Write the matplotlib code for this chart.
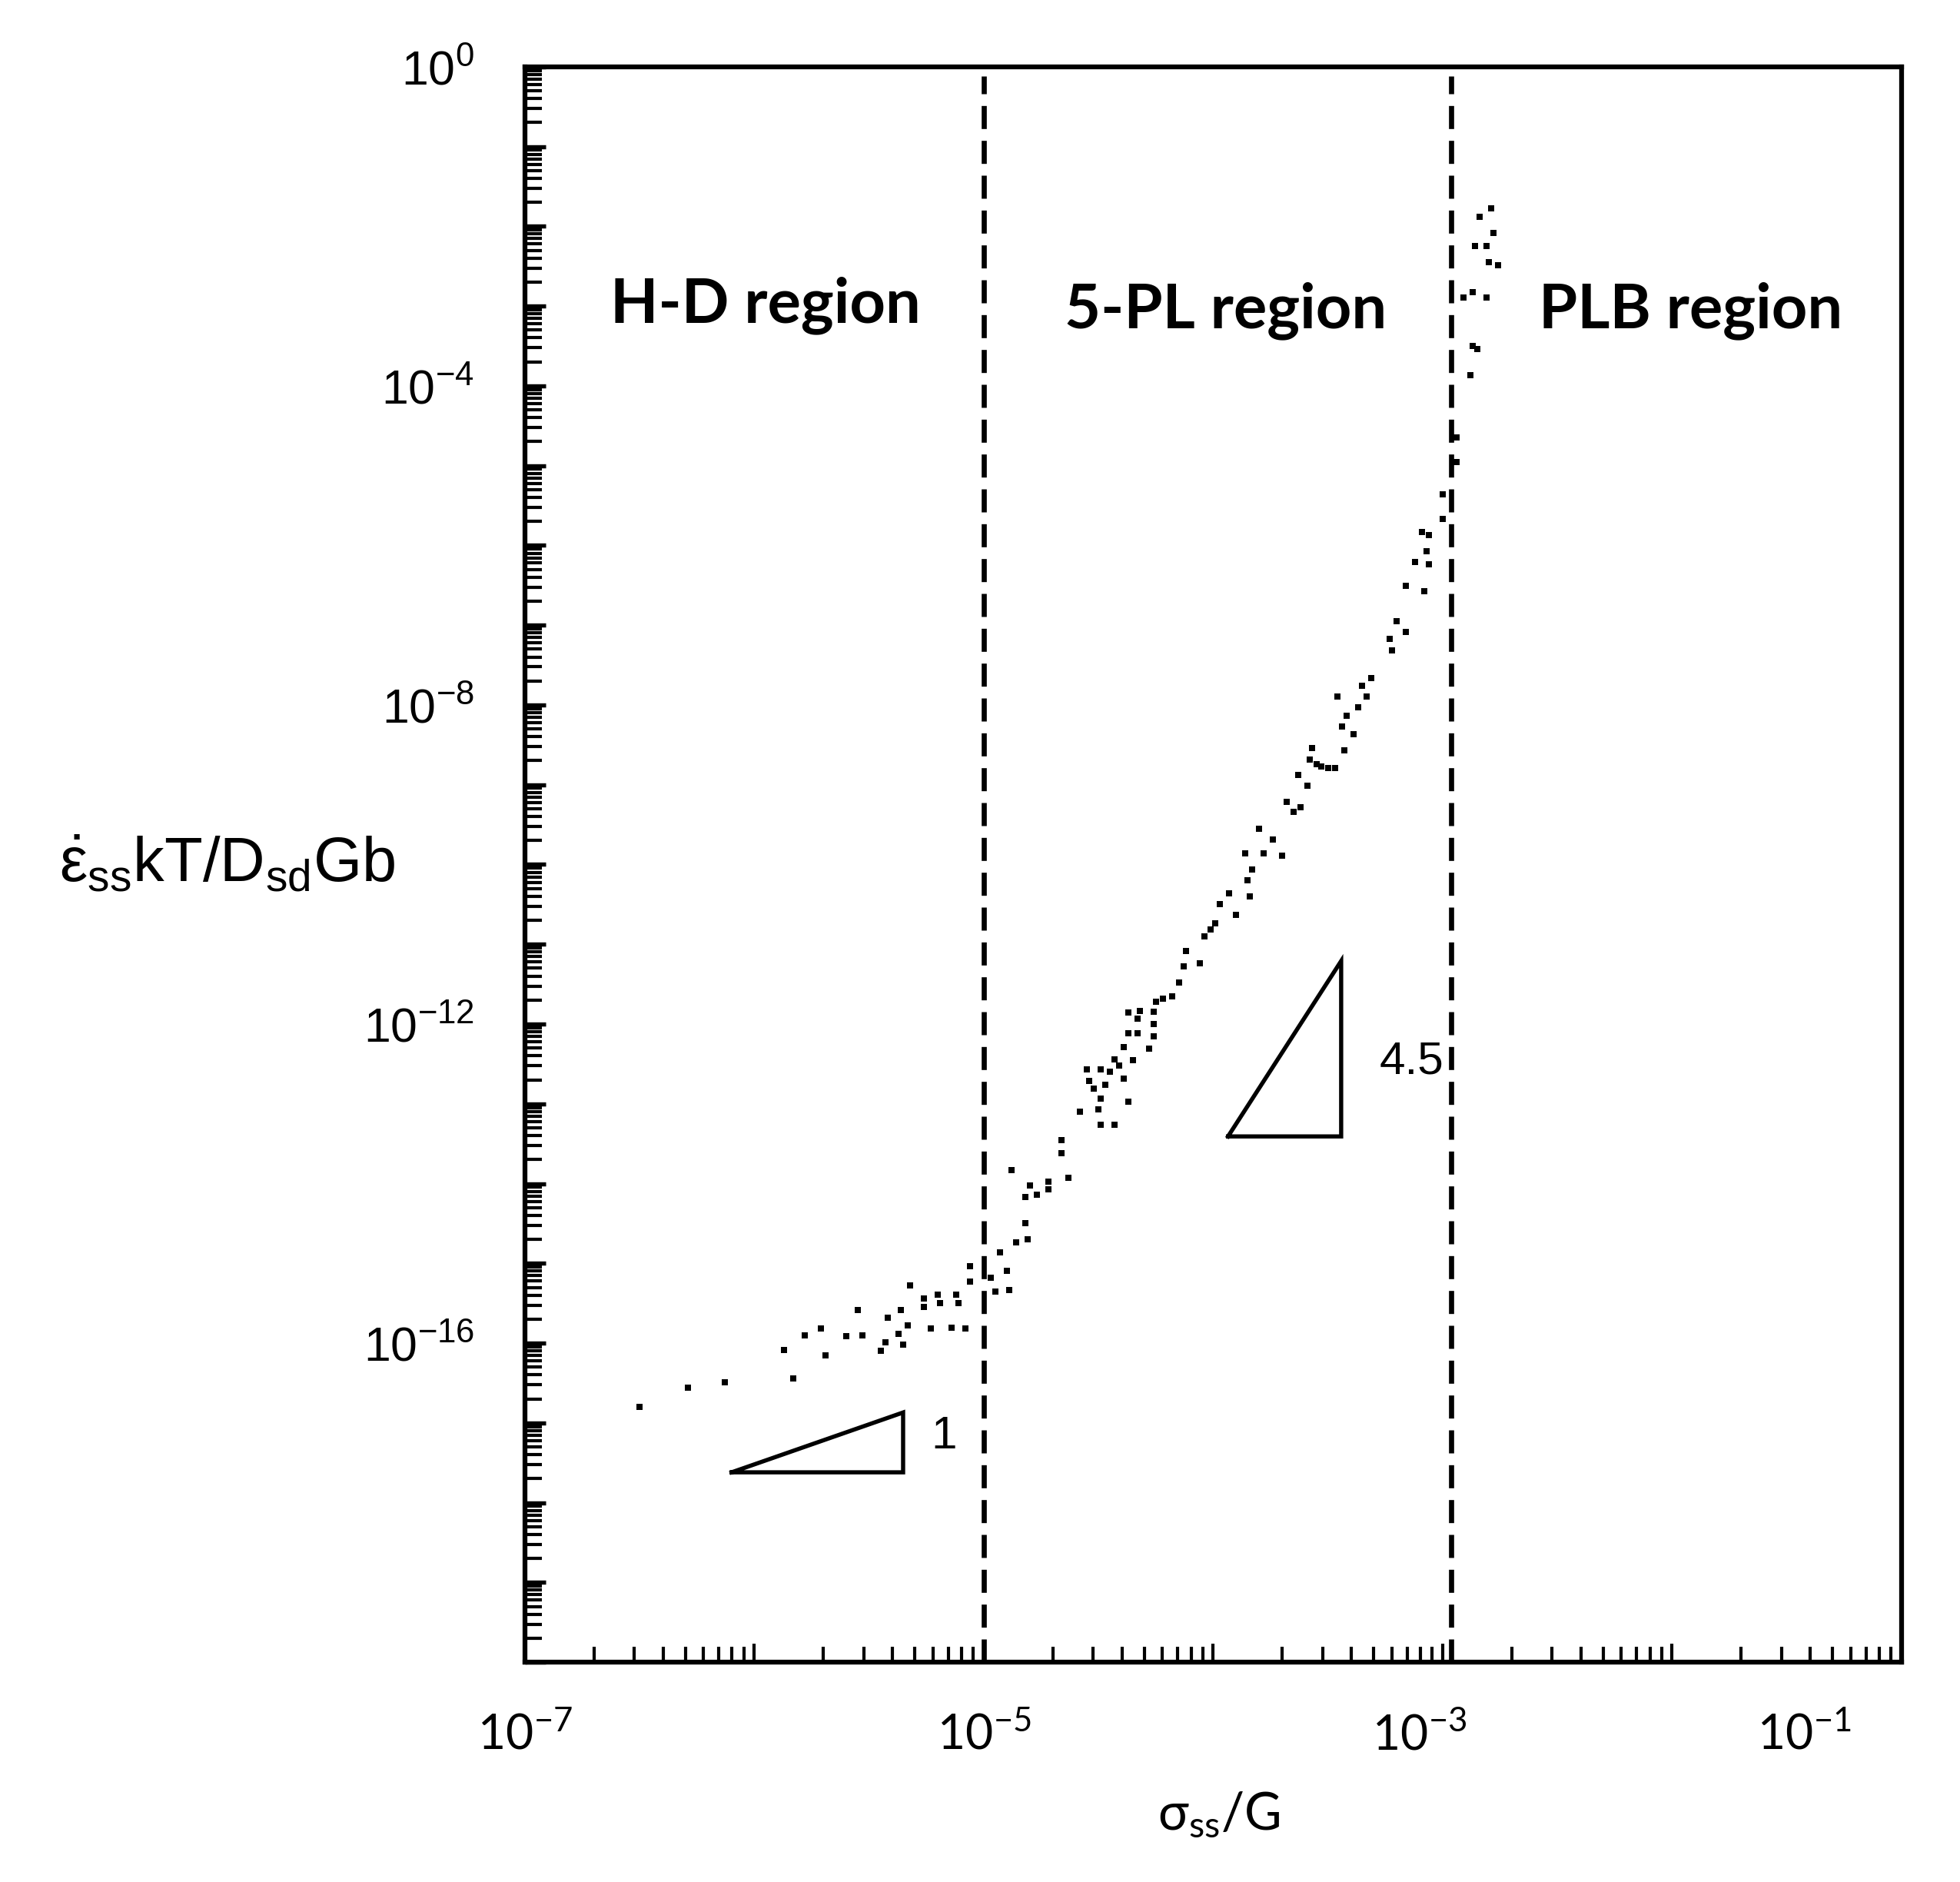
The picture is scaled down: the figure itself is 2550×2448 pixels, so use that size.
import numpy as np
import matplotlib
matplotlib.use("Agg")
import matplotlib.pyplot as plt
from matplotlib.ticker import FixedLocator, LogLocator, FuncFormatter, NullFormatter
from matplotlib.transforms import ScaledTranslation

plt.rcParams["font.family"] = ["Liberation Sans", "DejaVu Sans"]
plt.rcParams["mathtext.fontset"] = "custom"
plt.rcParams["mathtext.rm"] = "Lato"
plt.rcParams["mathtext.it"] = "Lato:italic"
plt.rcParams["mathtext.bf"] = "Lato:bold"
plt.rcParams["mathtext.sf"] = "Liberation Sans"

# points, stored as log10 of the axis values
log_stress = np.array([
    -6.50, -6.29, -6.13, -5.87, -5.83, -5.78, -5.71, -5.69, -5.60, -5.55,
    -5.53, -5.45, -5.43, -5.42, -5.37, -5.36, -5.35, -5.33, -5.32, -5.26,
    -5.26, -5.23, -5.20, -5.19, -5.14, -5.12, -5.11, -5.08, -5.06, -5.06,
    -4.97, -4.95, -4.93, -4.90, -4.89, -4.86, -4.81, -4.82, -4.82, -4.80,
    -4.77, -4.88, -4.72, -4.72, -4.63, -4.66, -4.66, -4.58, -4.50, -4.49,
    -4.43, -4.49, -4.37, -4.55, -4.54, -4.52, -4.49, -4.47, -4.45, -4.43,
    -4.41, -4.39, -4.35, -4.39, -4.37, -4.33, -4.37, -4.32, -4.33, -4.28,
    -4.26, -4.26, -4.26, -4.25, -4.22, -4.18, -4.15, -4.13, -4.12, -4.06,
    -4.04, -3.99, -4.01, -3.97, -3.90, -3.93, -3.86, -3.85, -3.84, -3.83,
    -3.80, -3.78, -3.74, -3.70, -3.68, -3.65, -3.63, -3.62, -3.59, -3.58,
    -3.57, -3.55, -3.53, -3.50, -3.47, -3.46, -3.44, -3.43, -3.42, -3.39,
    -3.37, -3.35, -3.33, -3.31, -3.23, -3.22, -3.20, -3.16, -3.16, -3.08,
    -3.12, -3.09, -3.07, -3.06, -3.06, -3.00, -3.00, -2.94, -2.94, -2.88,
    -2.87, -2.85, -2.91, -2.87, -2.81, -2.86, -2.84, -2.81, -2.79, -2.78,
    -2.76, -2.80,
])
log_rate = np.array([
    -16.80, -16.56, -16.49, -16.09, -16.44, -15.90, -15.82, -16.15, -15.91, -15.59,
    -15.90, -16.10, -15.99, -15.68, -15.88, -15.59, -16.02, -15.78, -15.28, -15.44,
    -15.55, -15.82, -15.39, -15.50, -15.81, -15.39, -15.50, -15.82, -15.04, -15.23,
    -15.18, -15.35, -14.86, -15.09, -15.33, -14.74, -14.70, -14.50, -14.17, -14.02,
    -14.14, -13.83, -13.98, -14.07, -13.93, -13.46, -13.62, -13.10, -13.07, -13.26,
    -13.26, -12.93, -12.97, -12.57, -12.71, -12.81, -12.57, -12.76, -12.60, -12.44,
    -12.52, -12.68, -12.45, -12.29, -12.12, -12.12, -11.86, -11.84, -11.93, -12.31,
    -11.85, -12.00, -12.15, -11.72, -11.68, -11.65, -11.48, -11.28, -11.08, -11.24,
    -10.90, -10.74, -10.81, -10.50, -10.63, -10.36, -9.86, -10.20, -10.40, -10.06,
    -9.55, -9.86, -9.69, -9.89, -9.21, -9.34, -8.88, -9.28, -9.01, -8.68,
    -8.54, -8.74, -8.77, -8.79, -8.79, -7.89, -8.27, -8.57, -8.14, -8.37,
    -8.03, -7.76, -7.89, -7.66, -7.17, -7.32, -6.95, -7.08, -6.51, -6.57,
    -6.21, -5.83, -6.07, -6.24, -5.87, -5.36, -5.67, -4.65, -4.95, -3.87,
    -3.50, -3.54, -2.89, -2.82, -2.89, -2.25, -1.88, -2.25, -1.77, -2.08,
    -2.49, -2.45,
])
stress = 10.0 ** log_stress
rate = 10.0 ** log_rate

# region boundaries (sigma/G)
boundaries = [1.0e-5, 1.09e-3]

region_names = ["H-D region", "5-PL region", "PLB region"]
region_x = [1.12e-6, 1.13e-4, 1.2e-2]
region_y = [6.2e-4, 5.3e-4, 5.3e-4]

# slope triangles: (x_left, x_right), (y_bottom, y_top)
tri1_x = [7.96e-7, 4.45e-6]
tri1_y = [2.4e-18, 1.35e-17]
tri2_x = [1.16e-4, 3.61e-4]
tri2_y = [3.9e-14, 6.17e-12]
slope_labels = ["1", "4.5"]
slope_label_x = [6.7e-6, 7.3e-4]
slope_label_y = [6.8e-18, 3.4e-13]

fig = plt.figure(figsize=(8.5, 8.16), dpi=300)
ax = fig.add_axes([0.2678, 0.1168, 0.7024, 0.8477])
ax.set_xscale("log")
ax.set_yscale("log")
ax.set_xlim(1e-7, 1e-1)
ax.set_ylim(1e-20, 1e0)

for b in boundaries:
    ax.axvline(b, ymin=0, ymax=0.994, color="k", lw=1.6, ls=(0, (4.5, 2.3)), zorder=2)

ax.plot(stress, rate, "s", color="k", ms=1.9, mew=0, zorder=3)

for tx, ty in [(tri1_x, tri1_y), (tri2_x, tri2_y)]:
    ax.plot([tx[0], tx[1], tx[1], tx[0]], [ty[0], ty[0], ty[1], ty[0]],
            color="k", lw=1.3, solid_joinstyle="miter", zorder=2)

for name, x, y in zip(region_names, region_x, region_y):
    ax.text(x, y, name, ha="center", va="baseline", fontsize=19.5,
            fontweight="bold", family=["Lato", "DejaVu Sans"])

for s, x, y in zip(slope_labels, slope_label_x, slope_label_y):
    ax.text(x, y, s, ha="center", va="center", fontsize=14.5)

# ticks
ax.yaxis.set_major_locator(FixedLocator(10.0 ** np.arange(-20, 1)))
ax.yaxis.set_minor_locator(LogLocator(base=10, subs=np.arange(2, 10), numticks=60))
ax.xaxis.set_major_locator(FixedLocator(10.0 ** np.arange(-7, 0)))
ax.xaxis.set_minor_locator(LogLocator(base=10, subs=np.arange(2, 10), numticks=60))
ax.xaxis.set_minor_formatter(NullFormatter())
ax.yaxis.set_minor_formatter(NullFormatter())


def ylab(v, pos):
    e = int(round(np.log10(v)))
    if e in (0, -4, -8, -12, -16):
        return r"$\mathsf{10^{%d}}$" % e
    return ""


def xlab(v, pos):
    e = int(round(np.log10(v)))
    if e in (-7, -5, -3, -1):
        return r"$\mathrm{10^{%d}}$" % e
    return ""


ax.yaxis.set_major_formatter(FuncFormatter(ylab))
ax.xaxis.set_major_formatter(FuncFormatter(xlab))

ax.tick_params(axis="y", which="major", direction="in", length=6.5, width=1.3,
               labelsize=15, pad=15.8, right=False)
ax.tick_params(axis="y", which="minor", direction="in", length=5.3, width=1.0, right=False)
ax.tick_params(axis="x", which="major", direction="in", length=5.8, width=1.0,
               labelsize=15, pad=16, top=False)
ax.tick_params(axis="x", which="minor", direction="in", length=4.8, width=1.0, top=False)

for sp in ax.spines.values():
    sp.set_linewidth(1.5)

ax.set_ylabel(r"$\mathsf{\dot{ε}_{ss}kT/D_{sd}Gb}$", rotation=0, ha="right",
              va="center", fontsize=19.5)
ax.yaxis.set_label_coords(-0.0938, 0.5)
ax.set_xlabel(r"$\mathrm{σ_{ss}/G}$", fontsize=16, va="top")
ax.xaxis.set_label_coords(0.504, -0.081)

# the original puts some x tick labels left of their ticks
fig.canvas.draw()
shift_px = {-3: -30, -1: -127}
for tick in ax.xaxis.get_major_ticks():
    loc = tick.get_loc()
    if loc is None:
        continue
    e = int(round(np.log10(loc)))
    if e in shift_px:
        tick.label1.set_transform(tick.label1.get_transform()
                                  + ScaledTranslation(shift_px[e] / 300.0, 0, fig.dpi_scale_trans))

fig.savefig("out.png", dpi=300)
